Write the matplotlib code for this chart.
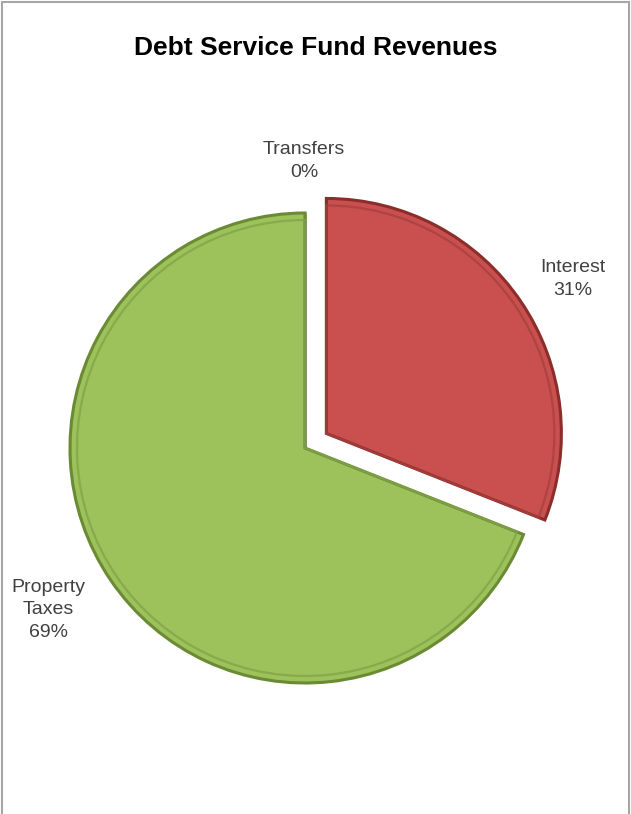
import matplotlib.pyplot as plt
from matplotlib.patches import Rectangle

# Datos
categorias = ['Transfers', 'Interest', 'Property Taxes']
valores = [0, 31, 69]
etiquetas = ['Transfers\n0%', 'Interest\n31%', 'Property\nTaxes\n69%']
colores = ['#7F7F7F', '#C9504E', '#9DC15B']
bordes = ['#5A5A5A', '#8A2D2B', '#6A8A33']
sombras = ['#6A6A6A', '#A8403E', '#82A548']
separacion = [0, 0.11, 0]

fuente = ['Liberation Sans', 'DejaVu Sans']

centro = (305, 366)
radio = 235

fig = plt.figure(figsize=(6.31, 8.14), dpi=100)
ax = fig.add_axes([0, 0, 1, 1])

# Sectores principales (explode en unidades de datos)
cuñas, _ = ax.pie(valores, colors=colores, explode=[s * radio for s in separacion],
                  startangle=90, counterclock=False, center=centro, radius=radio,
                  wedgeprops=dict(linewidth=2.2))
for w, b in zip(cuñas, bordes):
    w.set_edgecolor(b)

# Borde interior para simular el biselado
interior, _ = ax.pie(valores, colors=colores, explode=[s * radio for s in separacion],
                     startangle=90, counterclock=False, center=centro, radius=radio - 7,
                     wedgeprops=dict(linewidth=1.6, fill=False))
for w, s in zip(interior, sombras):
    w.set_edgecolor(s)
    w.set_alpha(0.8)

ax.set_xlim(0, 631)
ax.set_ylim(0, 814)
ax.set_aspect('equal')
ax.axis('off')

# Etiquetas de datos
pos_etiquetas = [(304, 653), (573, 535), (48, 204)]
for txt, (x, y) in zip(etiquetas, pos_etiquetas):
    ax.text(x, y, txt, ha='center', va='center', fontsize=14,
            color='#404040', family=fuente, linespacing=1.45)

# Título
fig.text(0.5, 0.941, 'Debt Service Fund Revenues', ha='center', va='center',
         fontsize=19, fontweight='bold', family=fuente)

# Marco gris
fig.patches.append(Rectangle((0.003, -0.01), 0.994, 1.008, transform=fig.transFigure,
                             fill=False, edgecolor='#A6A6A6', linewidth=1.5))

fig.savefig('out.png', dpi=100)
